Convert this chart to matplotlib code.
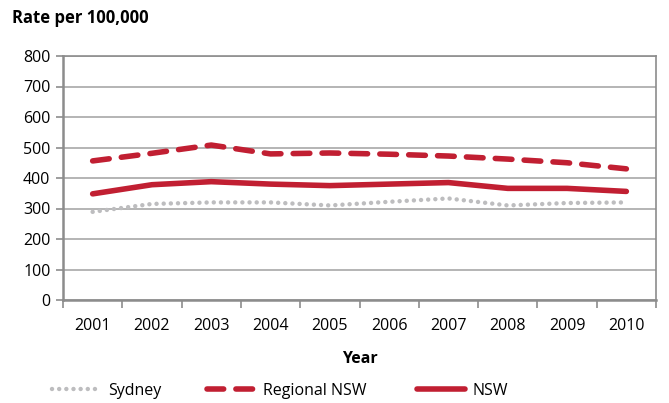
import matplotlib
matplotlib.use("Agg")
import matplotlib.pyplot as plt

plt.rcParams['font.family'] = ['Open Sans', 'DejaVu Sans']

years = ['2001', '2002', '2003', '2004', '2005', '2006', '2007', '2008', '2009', '2010']
sydney = [289, 315, 320, 320, 310, 322, 333, 310, 318, 320]
regional = [456, 481, 508, 479, 482, 478, 472, 462, 450, 430]
nsw = [348, 378, 388, 380, 375, 380, 385, 366, 366, 356]

red = '#c11f32'
grey = '#bdbdbf'
axis_col = '#8c8c8c'

fig = plt.figure(figsize=(6.69, 4.03), dpi=100)
ax = fig.add_axes([63 / 669, 1 - 300 / 403, (656 - 63) / 669, 244 / 403])

x = list(range(len(years)))
l1, = ax.plot(x, sydney, color=grey, lw=3.2, linestyle=(0, (0.01, 1.6)), dash_capstyle='round',
              solid_capstyle='round', label='Sydney', zorder=3)
l2, = ax.plot(x, regional, color=red, lw=4, linestyle=(0, (3, 2.2)), dash_capstyle='round',
              label='Regional NSW', zorder=4)
l3, = ax.plot(x, nsw, color=red, lw=4, solid_capstyle='round', label='NSW', zorder=4)

ax.set_xlim(-0.5, len(years) - 0.5)
ax.set_ylim(0, 800)
ax.set_yticks(range(0, 801, 100))
ax.set_xticks(x)
ax.set_xticklabels(years)
ax.set_xticks([i + 0.5 for i in range(-1, len(years))], minor=True)
ax.tick_params(axis='x', which='major', length=0, pad=13, labelsize=11.5)
ax.tick_params(axis='x', which='minor', length=6, color=axis_col, width=1.2)
ax.tick_params(axis='y', length=5, color=axis_col, width=1.2, labelsize=11.5, pad=4)
ax.yaxis.grid(True, color='#a8a8a8', lw=1.2)
ax.set_axisbelow(True)
for s in ax.spines.values():
    s.set_color(axis_col)
    s.set_linewidth(1.2)
ax.spines['left'].set_linewidth(1.8)
ax.spines['bottom'].set_linewidth(1.8)

ax.set_xlabel('Year', fontsize=11.5, fontweight='bold', labelpad=12)
fig.text(12 / 669, 1 - 18 / 403, 'Rate per 100,000', fontsize=12, fontweight='bold', va='center')

# one legend per series, placed like the original
for line, left in [(l1, 52), (l2, 207), (l3, 417)]:
    fig.legend(handles=[line], loc='center left', bbox_to_anchor=(left / 669, 1 - 391 / 403),
               frameon=False, fontsize=11.5, handlelength=3.0, handletextpad=0.5,
               borderpad=0, borderaxespad=0)

fig.savefig('out.png', dpi=100)
